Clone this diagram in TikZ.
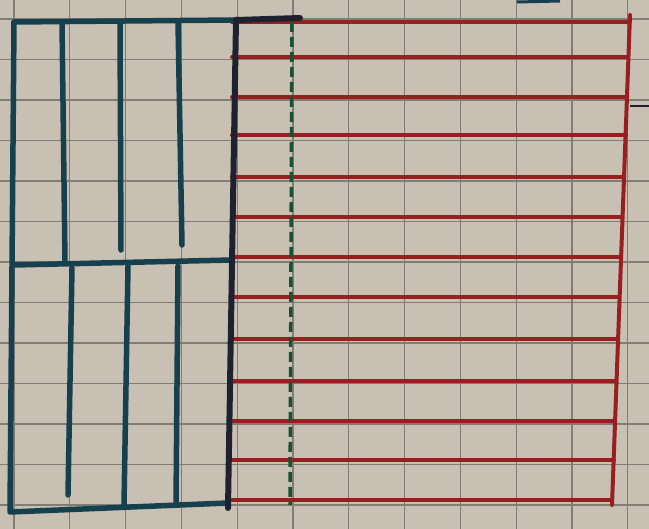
\documentclass[tikz,border=0pt]{standalone}
\usepackage{tikz}

\definecolor{paper}{RGB}{200,192,178}
\definecolor{gridgray}{RGB}{128,126,116}
\definecolor{tealink}{RGB}{22,64,78}
\definecolor{darkink}{RGB}{30,34,48}
\definecolor{redink}{RGB}{152,30,32}
\definecolor{greenink}{RGB}{26,80,52}

\tikzset{
  gridline/.style={gridgray, line width=1.1pt},
  bluepen/.style={tealink, line width=5.5pt, line cap=round, line join=round},
  darkpen/.style={darkink, line width=6pt, line cap=round},
  redpen/.style={redink, line width=4pt, line cap=round, line join=round},
  greenpen/.style={greenink, line width=3.5pt, dash pattern=on 10pt off 5pt}
}

\begin{document}
\begin{tikzpicture}[x=1pt, y=-1pt]
  % Paper
  \fill[paper] (0,0) rectangle (649,529);
  \useasboundingbox (0,0) rectangle (649,529);

  % Graph paper squares
  \foreach \i in {0,...,11}
    \draw[gridline] ({14+55.8*\i},0) -- ({14+55.8*\i},529);
  \foreach \j in {0,...,12}
    \draw[gridline] (0,{19+40.5*\j}) -- (649,{19+40.5*\j});

  % Red strips (right block)
  \foreach \y/\xr in {22/630, 57/628, 97/627, 135/626, 177/624, 217/622,
                      257/621, 297/619, 339/617, 381/616, 421/615, 460/614, 500/612}
    \draw[redpen] (232,\y) -- (\xr,\y);
  \draw[redpen] (630,15) -- (612,505);

  % Green dashed line
  \draw[greenpen] (292,22) -- (290,505);

  % Blue block, upper half
  \draw[bluepen] (14,22) -- (236,20);
  \draw[bluepen] (14,265) -- (232,260);
  \draw[bluepen] (62,22) -- (65,262);
  \draw[bluepen] (120,22) -- (121,250);
  \draw[bluepen] (178,22) -- (182,245);

  % Blue block, lower half
  \draw[bluepen] (14,22) -- (10,512) -- (228,503);
  \draw[bluepen] (72,268) -- (68,495);
  \draw[bluepen] (128,266) -- (124,505);
  \draw[bluepen] (178,266) -- (176,505);

  % Dark edge between blocks
  \draw[darkpen] (236,20) -- (228,508);
  \draw[darkpen] (236,20) -- (300,18);

  % Small marks at the edges
  \draw[tealink, line width=3pt] (517,2) -- (560,1);
  \draw[darkink, line width=2.5pt] (630,106) -- (649,106);
\end{tikzpicture}
\end{document}
